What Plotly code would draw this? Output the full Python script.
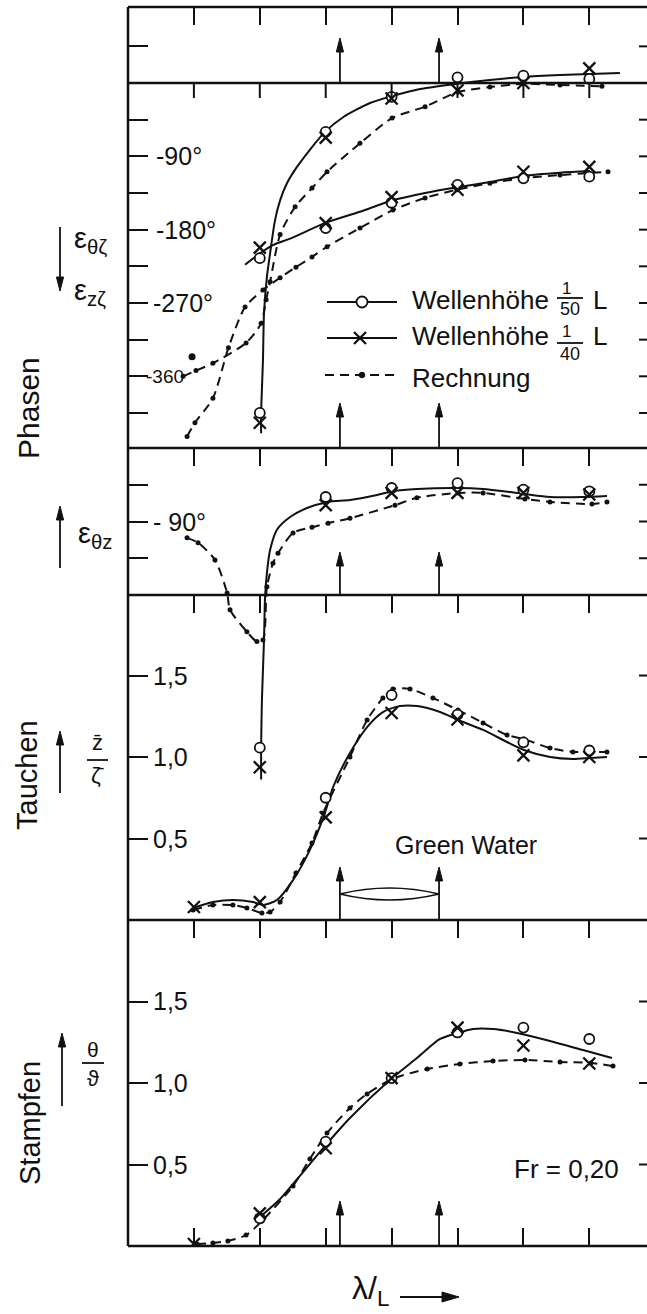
import plotly.graph_objects as go

# ---------------------------------------------------------------------------
# Data: Fr = 0,20, phases and amplitudes over wave length ratio lambda/L
# ---------------------------------------------------------------------------
lam = [0.5, 0.75, 1.0, 1.25, 1.5, 1.75, 2.0]          # measured wave lengths
green_water = [1.054, 1.43]                            # green water range

# Phase of pitch (eps_theta_zeta) and heave (eps_z_zeta) vs. wave, degrees
pitch_ph_50 = [None, -405, -60, -17, 7, 9, 5]
pitch_ph_40 = [None, -417, -67, -19, -9, 0, 18]
heave_ph_50 = [None, -215, -178, -147, -125, -117, -115]
heave_ph_40 = [None, -202, -172, -140, -131, -109, -103]

pitch_ph_fit_x = [0.755, 0.755, 0.762, 0.766, 0.777, 0.789, 0.808, 0.827, 0.853, 0.891,
                  0.940, 0.997, 1.066, 1.168, 1.252, 1.358, 1.498, 1.623, 1.748, 1.889, 2.116]
pitch_ph_fit_y = [-430, -405, -340, -282, -238, -209, -168, -144, -123, -103,
                  -82, -60, -42, -24.5, -16, -7.4, -1, 3.7, 7.4, 9.8, 12.3]
heave_ph_fit_x = [0.694, 0.751, 0.800, 0.865, 0.997, 1.130, 1.255, 1.377, 1.498, 1.623,
                  1.748, 1.889, 2.003]
heave_ph_fit_y = [-223, -209, -199, -191, -172, -158, -144, -135, -128, -121.5,
                  -114, -110, -108]

pitch_ph_calc_x = [0.459, 0.508, 0.572, 0.698, 0.755, 0.774, 0.789, 0.827, 0.884, 0.948,
                   1.005, 1.130, 1.252, 1.377, 1.502, 1.623, 1.748, 1.889, 2.048]
pitch_ph_calc_y = [-360, -353, -344, -319, -295, -266, -244, -186, -152, -129,
                   -109, -74, -43, -29, -11, -5, -1, -2.5, -4]
heave_ph_calc_x = [0.474, 0.504, 0.572, 0.631, 0.694, 0.762, 0.827, 0.887, 0.948, 1.005,
                   1.130, 1.255, 1.377, 1.498, 1.623, 1.748, 1.889, 2.071]
heave_ph_calc_y = [-434, -417, -387, -325, -275, -254, -239, -226, -213.5, -201,
                   -178, -156, -141, -131, -123, -117, -113, -109]
extra_calc_x = [0.493]
extra_calc_y = [-336]

# Phase pitch vs. heave (eps_theta_z), degrees
eth_50 = [None, -367, -60, -49, -43, -51, -53]
eth_40 = [None, -391, -70, -55, -55, -55, -57]
eth_fit_x = [0.755, 0.755, 0.758, 0.766, 0.770, 0.777, 0.789, 0.815, 0.865, 0.929, 1.009,
             1.092, 1.195, 1.259, 1.346, 1.502, 1.597, 1.699, 1.756, 1.851, 1.976, 2.067]
eth_fit_y = [-406, -367, -309, -235, -182, -153, -125, -100, -84.5, -73.5, -66,
             -63.7, -57.5, -52.7, -50.2, -49, -50.2, -53.9, -56.3, -60, -60, -58.8]
eth_calc_x = [0.474, 0.516, 0.580, 0.626, 0.637, 0.701, 0.739, 0.762, 0.777, 0.800, 0.819,
              0.876, 0.948, 1.009, 1.092, 1.263, 1.346, 1.502, 1.597, 1.756, 1.851, 2.010, 2.067]
eth_calc_y = [-110, -116, -137, -177.5, -198, -225, -237, -235, -170, -141, -129,
              -104, -97, -92, -86, -70, -61, -55, -55, -62.5, -66, -68.6, -66]

# Heave amplitude |z|/|zeta|
heave_50 = [None, None, 0.75, 1.38, 1.26, 1.09, 1.04]
heave_40 = [0.08, 0.11, 0.63, 1.27, 1.23, 1.01, 1.00]
heave_fit_x = [0.497, 0.572, 0.648, 0.724, 0.762, 0.815, 0.876, 0.940, 0.997, 1.028, 1.092,
               1.157, 1.217, 1.282, 1.346, 1.434, 1.502, 1.597, 1.688, 1.752, 1.851, 1.938,
               2.003, 2.067]
heave_fit_y = [0.074, 0.11, 0.123, 0.11, 0.092, 0.123, 0.245, 0.43, 0.656, 0.816, 1.025,
               1.184, 1.276, 1.313, 1.313, 1.276, 1.227, 1.166, 1.092, 1.043, 1.0, 0.988,
               0.994, 1.0]
heave_calc_x = [0.497, 0.572, 0.648, 0.701, 0.758, 0.789, 0.827, 0.887, 0.948, 0.990, 1.092,
                1.157, 1.217, 1.255, 1.320, 1.407, 1.502, 1.597, 1.688, 1.752, 1.851, 1.938,
                2.003, 2.067]
heave_calc_y = [0.061, 0.092, 0.092, 0.074, 0.043, 0.049, 0.11, 0.288, 0.472, 0.656, 1.0,
                1.227, 1.362, 1.417, 1.417, 1.362, 1.288, 1.209, 1.135, 1.110, 1.055, 1.031,
                1.031, 1.031]

# Pitch amplitude theta/(k zeta)
pitch_50 = [None, 0.17, 0.64, 1.03, 1.31, 1.34, 1.27]
pitch_40 = [0.012, 0.20, 0.60, 1.03, 1.34, 1.23, 1.12]
pitch_fit_x = [0.755, 0.827, 0.902, 0.997, 1.092, 1.252, 1.346, 1.434, 1.502, 1.559, 1.635,
               1.726, 1.851, 1.976, 2.086]
pitch_fit_y = [0.184, 0.288, 0.43, 0.613, 0.785, 1.03, 1.153, 1.27, 1.307, 1.331, 1.331,
               1.307, 1.258, 1.202, 1.153]
pitch_calc_x = [0.512, 0.572, 0.629, 0.698, 0.758, 0.876, 0.940, 1.005, 1.092, 1.157, 1.252,
                1.385, 1.509, 1.635, 1.756, 1.889, 2.006, 2.090]
pitch_calc_y = [0.012, 0.018, 0.031, 0.067, 0.153, 0.368, 0.534, 0.693, 0.847, 0.933, 1.025,
                1.086, 1.117, 1.135, 1.141, 1.129, 1.123, 1.104]

# ---------------------------------------------------------------------------
# Layout geometry (pixels of the 647 x 1314 page)
# ---------------------------------------------------------------------------
W, H = 647, 1314
LX, RX, TY, BY = 128, 647, 7, 1246
X_PX_PER_UNIT = 263.6
FONT = "Liberation Sans"
INK = "#111111"


def px_x(p):
    return (p - LX) / (RX - LX)


def px_y(p):
    return (BY - p) / (BY - TY)


X_RANGE = [0.25, 0.25 + (RX - LX) / X_PX_PER_UNIT]

fig = go.Figure()


def curve(x, y, ax, dashed=False, dots=False):
    fig.add_trace(go.Scatter(
        x=x, y=y, xaxis=ax[0], yaxis=ax[1],
        mode="lines+markers" if dots else "lines",
        line=dict(color=INK, width=2, shape="spline", smoothing=0.7,
                  dash="9px,6px" if dashed else "solid"),
        marker=dict(symbol="circle", size=5, color=INK),
        showlegend=False, hoverinfo="skip"))


def circles(y, ax):
    fig.add_trace(go.Scatter(
        x=lam, y=y, xaxis=ax[0], yaxis=ax[1], mode="markers",
        marker=dict(symbol="circle", size=10, color="white",
                    line=dict(color=INK, width=1.8)),
        showlegend=False, hoverinfo="skip"))


def crosses(y, ax):
    fig.add_trace(go.Scatter(
        x=lam, y=y, xaxis=ax[0], yaxis=ax[1], mode="markers",
        marker=dict(symbol="x-thin-open", size=12, color=INK,
                    line=dict(color=INK, width=2.3)),
        showlegend=False, hoverinfo="skip"))


A1, A2, A3, A4 = ("x", "y"), ("x2", "y2"), ("x3", "y3"), ("x4", "y4")

# Phases
curve(pitch_ph_calc_x, pitch_ph_calc_y, A1, dashed=True, dots=True)
curve(heave_ph_calc_x, heave_ph_calc_y, A1, dashed=True, dots=True)
fig.add_trace(go.Scatter(x=extra_calc_x, y=extra_calc_y, xaxis="x", yaxis="y", mode="markers",
                         marker=dict(size=7, color=INK), showlegend=False, hoverinfo="skip"))
curve(pitch_ph_fit_x, pitch_ph_fit_y, A1)
curve(heave_ph_fit_x, heave_ph_fit_y, A1)
circles(pitch_ph_50, A1)
circles(heave_ph_50, A1)
crosses(pitch_ph_40, A1)
crosses(heave_ph_40, A1)

# eps_theta_z (its axis reaches down into the heave panel for the wrapped values)
curve(eth_calc_x, eth_calc_y, A2, dashed=True, dots=True)
curve(eth_fit_x, eth_fit_y, A2)
circles(eth_50, A2)
crosses(eth_40, A2)

# Tauchen
curve(heave_calc_x, heave_calc_y, A3, dashed=True, dots=True)
curve(heave_fit_x, heave_fit_y, A3)
circles(heave_50, A3)
crosses(heave_40, A3)

# Stampfen
curve(pitch_calc_x, pitch_calc_y, A4, dashed=True, dots=True)
curve(pitch_fit_x, pitch_fit_y, A4)
circles(pitch_50, A4)
crosses(pitch_40, A4)

# ---------------------------------------------------------------------------
# Axes
# ---------------------------------------------------------------------------
phase_ticks = [45, -45, -90, -135, -180, -225, -270, -315, -360, -405]
eth_ticks = [-45, -90, -135]
amp_ticks = [0.5, 1.0, 1.5]

xcommon = dict(range=X_RANGE, side="top", ticks="inside", ticklen=18, tickwidth=2,
               tickcolor=INK, tickvals=lam, showticklabels=False, showline=False,
               showgrid=False, zeroline=False, domain=[0, 1])
ycommon = dict(ticks="inside", ticklen=20, tickwidth=2, tickcolor=INK,
               showticklabels=False, showline=False, showgrid=False, zeroline=False)

fig.update_layout(
    width=W, height=H,
    margin=dict(l=LX, r=W - RX, t=TY, b=H - BY, pad=0),
    paper_bgcolor="white", plot_bgcolor="rgba(0,0,0,0)",
    font=dict(family=FONT, color=INK),
    showlegend=False,
    xaxis=dict(xcommon, anchor="y"),
    xaxis2=dict(xcommon, anchor="y2", matches="x"),
    xaxis3=dict(xcommon, anchor="y3", matches="x"),
    xaxis4=dict(xcommon, anchor="y4", matches="x", mirror="ticks"),
    yaxis=dict(ycommon, anchor="x", domain=[px_y(448), 1], range=[-448.0, 93.3],
               tickvals=phase_ticks),
    yaxis2=dict(ycommon, anchor="x2", domain=[px_y(790), px_y(448)], range=[-418.8, 0],
                tickvals=eth_ticks),
    yaxis3=dict(ycommon, anchor="x3", domain=[px_y(920), px_y(595)], range=[0, 1.994],
                tickvals=amp_ticks),
    yaxis4=dict(ycommon, anchor="x4", domain=[0, px_y(920)], range=[0, 2.0],
                tickvals=amp_ticks),
)

shapes = []
LINE = dict(color=INK, width=2.5)

# frame: left edge and panel separators
shapes.append(dict(type="line", xref="paper", yref="paper", x0=0, x1=0, y0=0, y1=1, line=LINE))
for py in (TY, 448, 595, 920, BY):
    shapes.append(dict(type="line", xref="paper", yref="paper", x0=0, x1=1,
                       y0=px_y(py), y1=px_y(py), line=LINE))
# zero-degree line of the phase panel with its own ticks
shapes.append(dict(type="line", xref="paper", yref="y", x0=0, x1=1, y0=0, y1=0, line=LINE))
for xv in lam:
    shapes.append(dict(type="line", xref="x", yref="y", x0=xv, x1=xv, y0=0, y1=-18.4,
                       line=dict(color=INK, width=2)))

# short ticks on the right-hand edge
for yref, vals in (("y", phase_ticks), ("y2", eth_ticks), ("y3", amp_ticks), ("y4", amp_ticks)):
    for v in vals:
        shapes.append(dict(type="line", xref="paper", yref=yref, x0=px_x(639), x1=1,
                           y0=v, y1=v, line=dict(color=INK, width=2)))


def vertical_arrow(xref, xv, half_w, tail_py, tip_py, head=14, width=1.8):
    """Shaft plus filled head; xv and half_w are in the units of xref."""
    d = 1 if tail_py > tip_py else -1
    base = tip_py + d * head
    shapes.append(dict(type="line", xref=xref, yref="paper", x0=xv, x1=xv,
                       y0=px_y(tail_py), y1=px_y(base), line=dict(color=INK, width=width)))
    shapes.append(dict(type="path", xref=xref, yref="paper", fillcolor=INK,
                       line=dict(color=INK, width=1),
                       path=(f"M {xv - half_w},{px_y(base)} L {xv},{px_y(tip_py)} "
                             f"L {xv + half_w},{px_y(base)} Z")))


# green water marks in every panel
gw_half = 3.6 / X_PX_PER_UNIT
for xv in green_water:
    vertical_arrow("x", xv, gw_half, 82, 38)
    vertical_arrow("x", xv, gw_half, 448, 403)
    vertical_arrow("x", xv, gw_half, 595, 552)
    vertical_arrow("x", xv, gw_half, 920, 867)
    vertical_arrow("x", xv, gw_half, BY, 1201)

# green water lens
gy = 894
mid = sum(green_water) / 2
shapes.append(dict(
    type="path", xref="x", yref="paper",
    path=(f"M {green_water[0]},{px_y(gy)} Q {mid},{px_y(gy - 12)} {green_water[1]},{px_y(gy)} "
          f"Q {mid},{px_y(gy + 12)} {green_water[0]},{px_y(gy)} Z"),
    line=dict(color=INK, width=1.6)))

# arrows beside the ordinate titles
t_half = 3.6 / (RX - LX)
vertical_arrow("paper", px_x(60), t_half, 227, 291)
vertical_arrow("paper", px_x(60), t_half, 568, 506)
vertical_arrow("paper", px_x(60), t_half, 793, 731)
vertical_arrow("paper", px_x(62), t_half, 1106, 1033)

# abscissa arrow
shapes.append(dict(type="line", xref="paper", yref="paper", x0=px_x(400), x1=px_x(444),
                   y0=px_y(1297), y1=px_y(1297), line=dict(color=INK, width=1.8)))
shapes.append(dict(type="path", xref="paper", yref="paper", fillcolor=INK,
                   line=dict(color=INK, width=1),
                   path=(f"M {px_x(442)},{px_y(1292)} L {px_x(459)},{px_y(1297)} "
                         f"L {px_x(442)},{px_y(1302)} Z")))

# legend samples
for py in (302, 338):
    shapes.append(dict(type="line", xref="paper", yref="paper", x0=px_x(327), x1=px_x(397),
                       y0=px_y(py), y1=px_y(py), line=dict(color=INK, width=2)))
shapes.append(dict(type="circle", xref="paper", yref="paper",
                   x0=px_x(362 - 5.5), x1=px_x(362 + 5.5), y0=px_y(302 + 5.5), y1=px_y(302 - 5.5),
                   fillcolor="white", line=dict(color=INK, width=1.8)))
for dx in (-1, 1):
    shapes.append(dict(type="line", xref="paper", yref="paper",
                       x0=px_x(360 - 6), x1=px_x(360 + 6), y0=px_y(338 - 6 * dx), y1=px_y(338 + 6 * dx),
                       line=dict(color=INK, width=2.3)))
shapes.append(dict(type="line", xref="paper", yref="paper", x0=px_x(325), x1=px_x(400),
                   y0=px_y(375), y1=px_y(375), line=dict(color=INK, width=2, dash="9px,6px")))
shapes.append(dict(type="circle", xref="paper", yref="paper", fillcolor=INK,
                   x0=px_x(362 - 2.8), x1=px_x(362 + 2.8), y0=px_y(375 + 2.8), y1=px_y(375 - 2.8),
                   line=dict(color=INK, width=1)))
# fraction bars of the legend and of the amplitude labels
for (x0, x1, py) in ((557, 583, 298), (557, 583, 343), (87, 108, 760), (82, 104, 1063)):
    shapes.append(dict(type="line", xref="paper", yref="paper", x0=px_x(x0), x1=px_x(x1),
                       y0=px_y(py), y1=px_y(py), line=dict(color=INK, width=1.8)))

fig.update_layout(shapes=shapes)

# ---------------------------------------------------------------------------
# Text
# ---------------------------------------------------------------------------
ann = []


def text(t, xp, yp, size, xanchor="center", angle=0):
    ann.append(dict(text=t, x=px_x(xp), y=px_y(yp), xref="paper", yref="paper",
                    xanchor=xanchor, yanchor="middle", showarrow=False, textangle=angle,
                    font=dict(family=FONT, size=size, color=INK)))


def ylabel(t, yref, v, xp, size=25):
    ann.append(dict(text=t, x=px_x(xp), y=v, xref="paper", yref=yref, xanchor="left",
                    yanchor="middle", showarrow=False, font=dict(family=FONT, size=size, color=INK)))


# tick labels
ylabel("-90°", "y", -90, 154)
ylabel("-180°", "y", -180, 154)
ylabel("-270°", "y", -270, 151)
ylabel("-360", "y", -360, 144, size=19)
ylabel("- 90°", "y2", -90, 151)
for yref in ("y3", "y4"):
    ylabel("1,5", yref, 1.5, 151)
    ylabel("1,0", yref, 1.0, 151)
    ylabel("0,5", yref, 0.5, 151)

# axis titles
text("Phasen", 28, 408, 30, angle=-90)
text("Tauchen", 27, 775, 29, angle=-90)
text("Stampfen", 30, 1123, 29, angle=-90)
text("ε<sub>θζ</sub>", 72, 240, 29, xanchor="left")
text("ε<sub>zζ</sub>", 72, 292, 29, xanchor="left")
text("ε<sub>θz</sub>", 76, 535, 29, xanchor="left")
text("z̄", 97, 742, 22)
text("ζ̄", 97, 775, 22)
text("θ", 93, 1049, 21)
text("ϑ", 93, 1078, 22)

# legend text
text("Wellenhöhe", 410, 300, 26, xanchor="left")
text("1", 566, 288, 17)
text("50", 570, 309, 18)
text("L", 591, 300, 26, xanchor="left")
text("Wellenhöhe", 410, 336, 26, xanchor="left")
text("1", 566, 332, 17)
text("40", 570, 354, 18)
text("L", 591, 336, 26, xanchor="left")
text("Rechnung", 410, 378, 26, xanchor="left")

text("Green Water", 466, 845, 25)
text("Fr = 0,20", 566, 1169, 26)

# abscissa label
text("λ/<sub>L</sub>", 350, 1290, 32, xanchor="left")

fig.update_layout(annotations=ann)
fig.write_html("out.html")
